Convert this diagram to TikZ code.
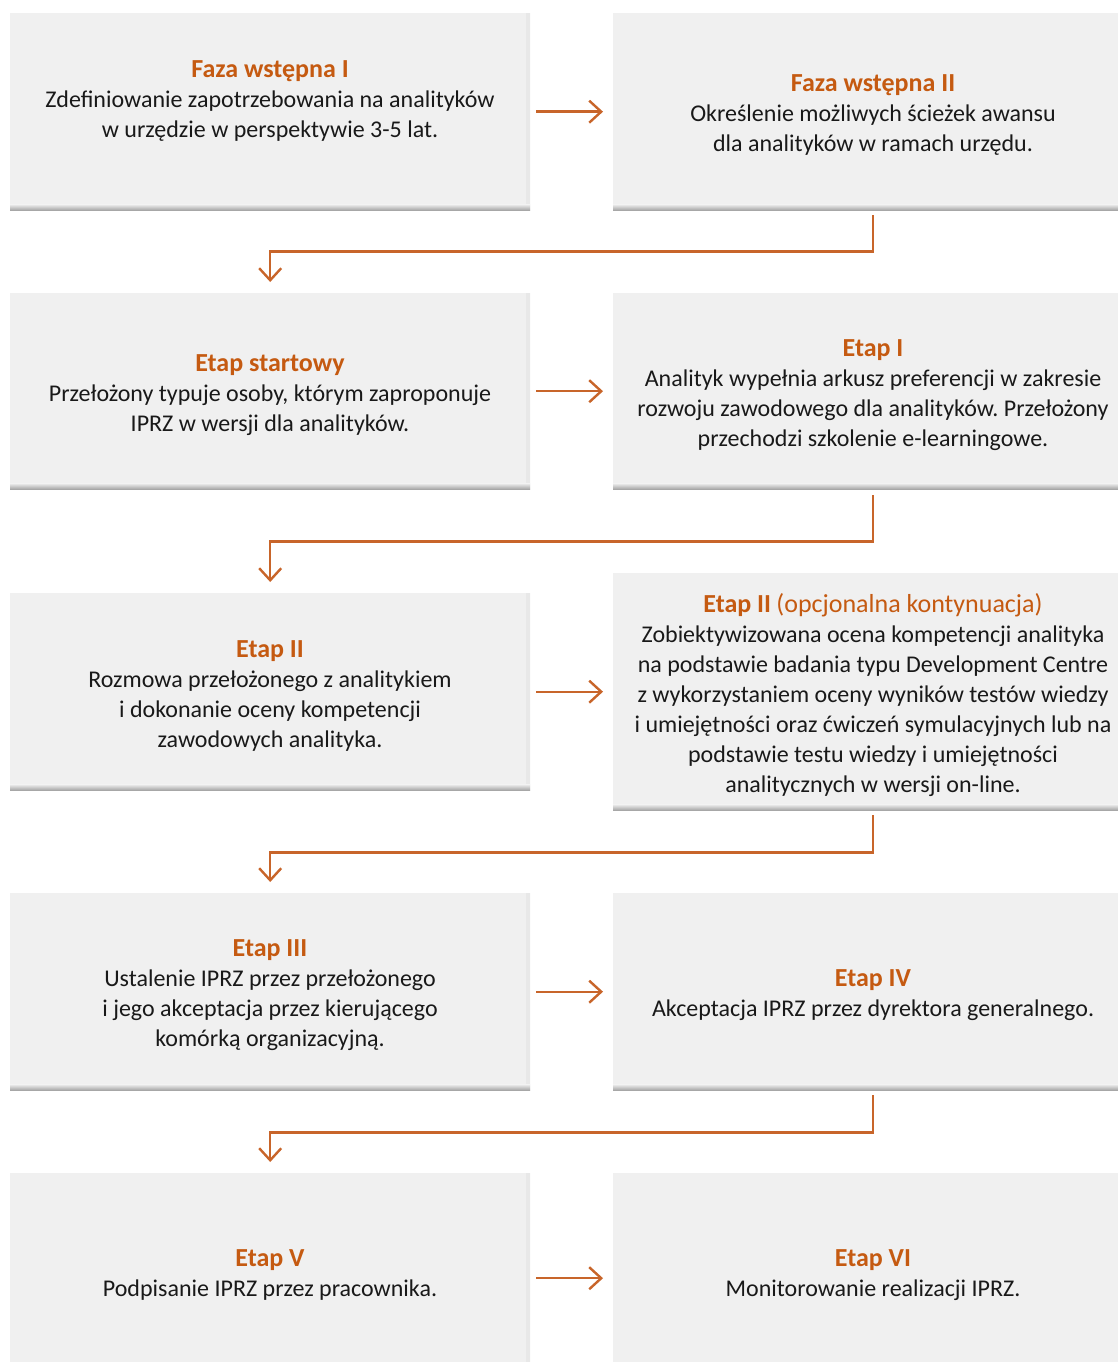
\documentclass[tikz,border=0pt]{standalone}
\usepackage{fontspec}
\setmainfont{Carlito}
\frenchspacing
\usetikzlibrary{arrows.meta,calc}
\definecolor{ttlorange}{HTML}{C55A11}
\definecolor{arrc}{HTML}{C8652A}
\definecolor{boxfill}{HTML}{F0F0F0}
\tikzset{
  stagebox/.style={fill=boxfill, draw=none, inner sep=0pt, anchor=north west,
    minimum width=520pt,
    path picture={
      \shade[left color=boxfill, right color=black!9]
        ([xshift=-4pt]path picture bounding box.north east) rectangle (path picture bounding box.south east);
      \shade[top color=boxfill, bottom color=black!38]
        ([yshift=-0.5pt]path picture bounding box.south west) rectangle ([yshift=6pt]path picture bounding box.south east);
    }},
  txt/.style={align=center, font=\fontsize{24}{30}\selectfont\frenchspacing, inner sep=0pt, text=black!90},
  flow/.style={draw=arrc, line width=2.4pt, -{Straight Barb[length=12pt,width=22pt]}},
}
\newcommand{\ttlx}[1]{\textcolor{ttlorange}{\fontsize{26}{30}\selectfont\textbf{#1}}}
\newcommand{\ttlr}[1]{\textcolor{ttlorange}{\fontsize{26}{30}\selectfont #1}}
\begin{document}
\begin{tikzpicture}[x=1pt,y=-1pt]
\clip (0,0) rectangle (1118,1362);
\fill[white] (0,0) rectangle (1118,1362);
% boxes
\node[stagebox, minimum height=197pt] (L1) at (10,13) {};
\node[stagebox, minimum height=197pt] (R1) at (613,13) {};
\node[stagebox, minimum height=196pt] (L2) at (10,293) {};
\node[stagebox, minimum height=196pt] (R2) at (613,293) {};
\node[stagebox, minimum height=197pt] (L3) at (10,593) {};
\node[stagebox, minimum height=237pt] (R3) at (613,573) {};
\node[stagebox, minimum height=197pt] (L4) at (10,893) {};
\node[stagebox, minimum height=197pt] (R4) at (613,893) {};
\node[stagebox, minimum height=210pt] (L5) at (10,1173) {};
\node[stagebox, minimum height=210pt] (R5) at (613,1173) {};
% texts
\node[txt] (tL1) at (270,101) {\ttlx{Faza wstępna I}\\Zdefiniowanie zapotrzebowania na analityków\\w urzędzie w perspektywie 3-5 lat.};
\node[txt] (tR1) at (873,115) {\ttlx{Faza wstępna II}\\Określenie możliwych ścieżek awansu\\dla analityków w ramach urzędu.};
\node[txt] (tL2) at (270,395) {\ttlx{Etap startowy}\\Przełożony typuje osoby, którym zaproponuje\\IPRZ w wersji dla analityków.};
\node[txt] (tR2) at (873,395) {\ttlx{Etap I}\\Analityk wypełnia arkusz preferencji w zakresie\\rozwoju zawodowego dla analityków. Przełożony\\przechodzi szkolenie e-learningowe.};
\node[txt] (tL3) at (270,695.5) {\ttlx{Etap II}\\Rozmowa przełożonego z analitykiem\\i dokonanie oceny kompetencji\\zawodowych analityka.};
\node[txt] (tR3) at (873,695) {\ttlx{Etap II} \ttlr{(opcjonalna kontynuacja)}\\Zobiektywizowana ocena kompetencji analityka\\na podstawie badania typu Development Centre\\z wykorzystaniem oceny wyników testów wiedzy\\i umiejętności oraz ćwiczeń symulacyjnych lub na\\podstawie testu wiedzy i umiejętności\\analitycznych w wersji on-line.};
\node[txt] (tL4) at (270,995.5) {\ttlx{Etap III}\\Ustalenie IPRZ przez przełożonego\\i jego akceptacja przez kierującego\\komórką organizacyjną.};
\node[txt] (tR4) at (873,995.5) {\ttlx{Etap IV}\\Akceptacja IPRZ przez dyrektora generalnego.};
\node[txt] (tL5) at (270,1275) {\ttlx{Etap V}\\Podpisanie IPRZ przez pracownika.};
\node[txt] (tR5) at (873,1275) {\ttlx{Etap VI}\\Monitorowanie realizacji IPRZ.};
% horizontal arrows
\foreach \r in {1,...,5}{
  \draw[flow] ([xshift=6pt]L\r.east) -- ($(L\r.east -| R\r.west)+(-10,0)$);
}
% elbow arrows
\draw[flow] ([yshift=-5pt]R1.south) -- ++(0,36) -| ([yshift=11pt]L2.north);
\draw[flow] ([yshift=-6pt]R2.south) -- ++(0,46) -| ([yshift=11pt]L3.north);
\draw[flow] ([yshift=-5pt]R3.south) -- ++(0,37) -| ([yshift=11pt]L4.north);
\draw[flow] ([yshift=-5pt]R4.south) -- ++(0,37) -| ([yshift=11pt]L5.north);
\end{tikzpicture}
\end{document}
